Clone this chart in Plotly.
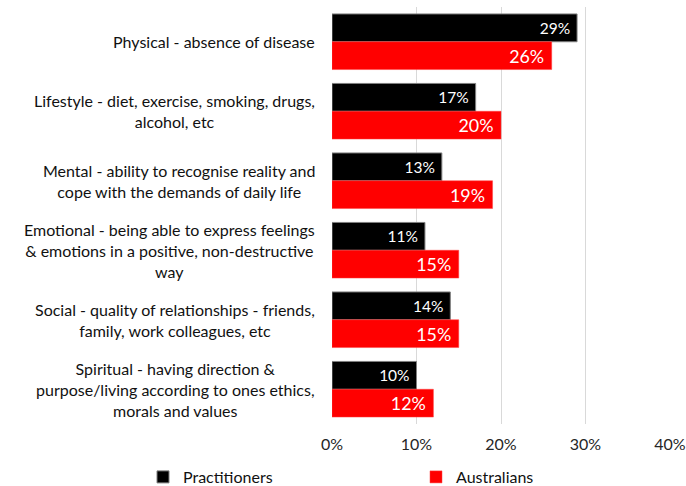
import plotly.graph_objects as go

# Aspects of health, listed top to bottom
categories = [
    "Physical - absence of disease",
    "Lifestyle - diet, exercise, smoking, drugs,<br>alcohol, etc",
    "Mental - ability to recognise reality and<br>cope with the demands of daily life",
    "Emotional - being able to express feelings<br>& emotions in a positive, non-destructive<br>way",
    "Social - quality of relationships - friends,<br>family, work colleagues, etc",
    "Spiritual - having direction &<br>purpose/living according to ones ethics,<br>morals and values",
]
practitioners = [0.29, 0.17, 0.13, 0.11, 0.14, 0.10]
australians = [0.26, 0.20, 0.19, 0.15, 0.15, 0.12]
x_ticks = [0, 0.1, 0.2, 0.3, 0.4]
x_tick_labels = ["0%", "10%", "20%", "30%", "40%"]

FONT = "Lato"
W, H = 686, 486
L, R, T, B = 332, 16, 7, 62

fig = go.Figure()
fig.add_trace(go.Bar(
    name="Practitioners", y=categories, x=practitioners, orientation="h",
    marker=dict(color="#000000", line=dict(color="#7f7f7f", width=1)),
    text=practitioners, texttemplate="%{x:.0%}\u00a0", textposition="inside",
    insidetextanchor="end", textangle=0,
    textfont=dict(color="white", size=15.5, family=FONT),
    legend="legend", showlegend=True,
))
fig.add_trace(go.Bar(
    name="Australians", y=categories, x=australians, orientation="h",
    marker=dict(color="#ff0000", line=dict(color="#ff4040", width=0.5)),
    text=australians, texttemplate="%{x:.0%}\u00a0", textposition="inside",
    insidetextanchor="end", textangle=0,
    textfont=dict(color="white", size=18, family=FONT),
    legend="legend2", showlegend=True,
))

# Centered, multi-line category labels to the left of the bars
for cat in categories:
    fig.add_annotation(
        text=cat, x=0, xref="paper", y=cat, yref="y",
        xanchor="right", yanchor="middle", xshift=-15, align="center",
        showarrow=False, font=dict(family=FONT, size=16, color="#111111"),
    )

legend_style = dict(
    xref="container", yref="container", xanchor="left", yanchor="middle",
    orientation="h", font=dict(family=FONT, size=16, color="#111111"),
    bgcolor="rgba(0,0,0,0)", visible=True,
)
fig.update_layout(
    width=W, height=H,
    margin=dict(l=L, r=R, t=T, b=B, autoexpand=False),
    paper_bgcolor="white", plot_bgcolor="white",
    showlegend=True,
    barmode="group", bargap=0.2, bargroupgap=0,
    font=dict(family=FONT, size=16, color="#111111"),
    xaxis=dict(
        range=[0, 0.4], tickvals=x_ticks, ticktext=x_tick_labels,
        showgrid=True, gridcolor="#d9d9d9", gridwidth=1,
        zeroline=False, showline=False, ticks="",
        tickfont=dict(family=FONT, size=16, color="#262626"),
        ticklabelstandoff=9,
    ),
    yaxis=dict(
        autorange="reversed", showticklabels=False, showgrid=False,
        zeroline=False, showline=False, ticks="",
    ),
    legend=dict(x=143 / W, y=1 - 477 / H, **legend_style),
    legend2=dict(x=416 / W, y=1 - 477 / H, **legend_style),
)

fig.write_html("out.html")
